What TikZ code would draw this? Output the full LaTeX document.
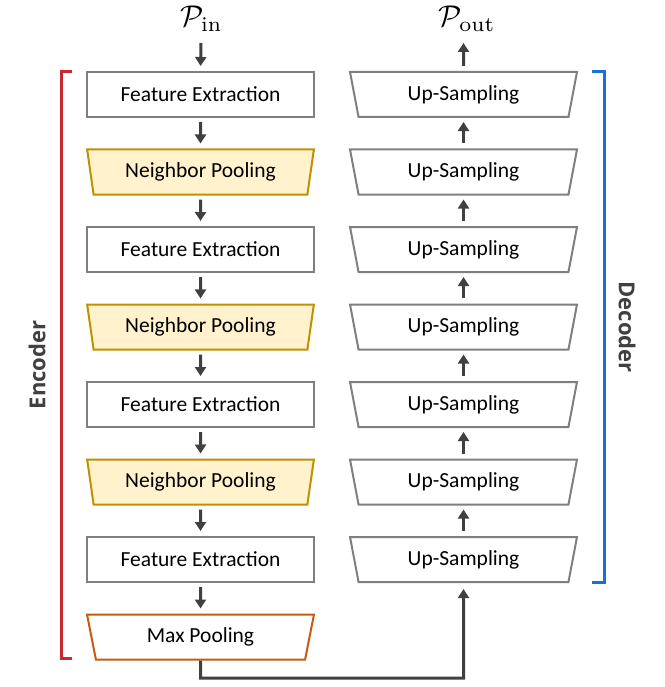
\documentclass[tikz,border=0pt]{standalone}
\usepackage{graphicx}
\usepackage{fontspec}
\usetikzlibrary{shapes.geometric,arrows.meta}
\newfontfamily\boxfont{Carlito}
\newfontfamily\labfont{Open Sans}
\definecolor{boxgray}{HTML}{7F7F7F}
\definecolor{arrgray}{HTML}{404040}
\definecolor{npfill}{HTML}{FFF2CC}
\definecolor{npdraw}{HTML}{BF9000}
\definecolor{mpdraw}{HTML}{C55A11}
\definecolor{encred}{HTML}{C62A2F}
\definecolor{decblue}{HTML}{1E6ED8}
\tikzset{
  fe/.style={draw=boxgray, line width=2pt, rectangle, minimum width=227pt, minimum height=45pt, inner sep=0pt, font=\boxfont\fontsize{21.5}{24}\selectfont},
  trap/.style={trapezium, trapezium left angle=76.3, trapezium right angle=76.3, shape border rotate=180, trapezium stretches=true, minimum width=227pt, minimum height=45pt, inner sep=0pt, line width=2pt, font=\boxfont\fontsize{21.5}{24}\selectfont},
  np/.style={trap, draw=npdraw, fill=npfill},
  mp/.style={trap, draw=mpdraw, fill=white},
  us/.style={trap, draw=boxgray, fill=white},
  arr/.style={draw=arrgray, line width=3pt, -{Triangle[width=11pt,length=9pt]}},
  lab/.style={font=\labfont\bfseries\fontsize{22}{26}\selectfont, text=arrgray},
  pl/.style={inner sep=0pt}
}
\begin{document}
\begin{tikzpicture}[x=1pt,y=-1pt]
\useasboundingbox (0,0) rectangle (664,687);
% left column
\node[fe] (e1) at (200.5,94.5) {Feature Extraction};
\node[np] (e2) at (200.5,172) {Neighbor Pooling};
\node[fe] (e3) at (200.5,249.5) {Feature Extraction};
\node[np] (e4) at (200.5,327) {Neighbor Pooling};
\node[fe] (e5) at (200.5,404.5) {Feature Extraction};
\node[np] (e6) at (200.5,482) {Neighbor Pooling};
\node[fe] (e7) at (200.5,559.5) {Feature Extraction};
\node[mp] (e8) at (200.5,637) {Max Pooling};
% right column
\node[us] (d1) at (463.5,94.5) {Up-Sampling};
\node[us] (d2) at (463.5,172) {Up-Sampling};
\node[us] (d3) at (463.5,249.5) {Up-Sampling};
\node[us] (d4) at (463.5,327) {Up-Sampling};
\node[us] (d5) at (463.5,404.5) {Up-Sampling};
\node[us] (d6) at (463.5,482) {Up-Sampling};
\node[us] (d7) at (463.5,559.5) {Up-Sampling};
% labels
\node[pl, anchor=base] (pin) at (201.5,27) {\scalebox{3}{$\mathcal{P}_{\mathrm{in}}$}};
\node[pl, anchor=base] (pout) at (467,27) {\scalebox{3}{$\mathcal{P}_{\mathrm{out}}$}};
\coordinate (pinb) at (201,43);
\coordinate (poutb) at (463.5,43);
% arrows left
\draw[arr, shorten >=5pt] (pinb) -- (e1.north);
\foreach \a/\b in {e1/e2,e2/e3,e3/e4,e4/e5,e5/e6,e6/e7,e7/e8}
  \draw[arr, shorten <=4pt, shorten >=5pt] (\a.south) -- (\b.north);
% arrows right
\draw[arr, shorten <=5pt] (d1.north) -- (poutb);
\foreach \a/\b in {d7/d6,d6/d5,d5/d4,d4/d3,d3/d2,d2/d1}
  \draw[arr, shorten <=5pt, shorten >=4pt] (\a.north) -- (\b.south);
% bottom connector
\coordinate (bend) at (200.5,678);
\draw[arr, shorten >=6pt] (e8.south) -- (bend) -| (d7.south);
% brackets
\draw[encred, line width=3pt] (72,72) -- (61,72) -- (61,658) -- (72,658);
\draw[decblue, line width=3pt] (592,72) -- (604,72) -- (604,582) -- (592,582);
\node[lab, rotate=90] (enc) at (37,365) {Encoder};
\node[lab, rotate=-90] (dec) at (627,327) {Decoder};
\end{tikzpicture}
\end{document}
